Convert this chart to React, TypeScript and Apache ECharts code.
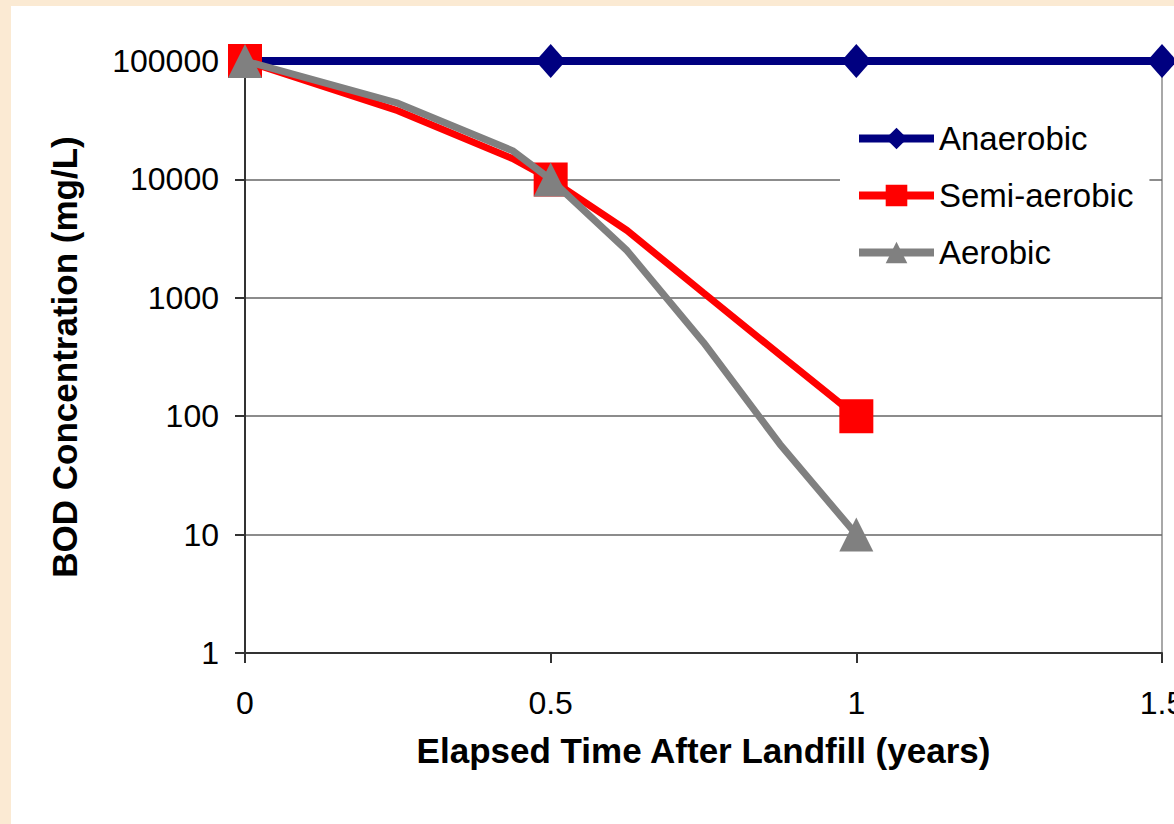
import React, { useEffect, useRef } from "react";
import * as echarts from "echarts";

const seriesNames = ["Anaerobic", "Semi-aerobic", "Aerobic"];
const anaerobicTimes = [0, 0.5, 1, 1.5];
const anaerobicValues = [100000, 100000, 100000, 100000];
const curveTimes = [0, 0.25, 0.4375, 0.5, 0.625, 0.75, 0.875, 1];
const semiValues = [100000, 38000, 15000, 10000, 3700, 1100, 330, 100];
const aerobicValues = [100000, 44000, 17500, 10000, 2500, 420, 58, 10];
const markerTimes = [0, 0.5, 1, 1.5];
const yTicks = [1, 10, 100, 1000, 10000, 100000];

const FONT = "Liberation Sans, Arial, sans-serif";

function buildData(times: number[], values: number[], size: number | number[]) {
  return times.map((t, i) => ({
    value: [t, values[i]],
    symbolSize: markerTimes.indexOf(t) >= 0 ? size : 0,
  }));
}

export default function App() {
  const ref = useRef<HTMLDivElement>(null);
  useEffect(() => {
    if (!ref.current) return;
    const chart = echarts.init(ref.current, undefined, { renderer: "svg" });
    chart.setOption({
      animation: false,
      backgroundColor: "#FBEAD3",
      graphic: [
        {
          type: "rect",
          z: -10,
          shape: { x: 11, y: 6, width: 1174, height: 830 },
          style: { fill: "#FFFFFF" },
          silent: true,
        },
      ],
      grid: {
        left: 245,
        top: 61,
        right: 12,
        bottom: 171,
        outerBoundsMode: "none",
        containLabel: false,
        show: true,
        backgroundColor: "transparent",
        borderColor: "#8C8C8C",
        borderWidth: 1.5,
      },
      legend: {
        left: 840,
        top: 112,
        padding: [10, 16, 10, 15],
        backgroundColor: "#FFFFFF",
        orient: "vertical",
        itemWidth: 75,
        itemHeight: 27,
        itemGap: 24,
        data: seriesNames.map((n) => ({
          name: n,
          lineStyle: { width: 8 },
        })),
        textStyle: { fontFamily: FONT, fontSize: 33, color: "#000000" },
      },
      xAxis: {
        type: "value",
        min: 0,
        max: 1.5,
        interval: 0.5,
        name: "Elapsed Time After Landfill (years)",
        nameLocation: "middle",
        nameGap: 80,
        nameTextStyle: { fontFamily: FONT, fontSize: 35, fontWeight: "bold", color: "#000000" },
        axisLine: { show: true, lineStyle: { color: "#333333", width: 2 } },
        axisTick: { show: true, inside: false, length: 10, lineStyle: { color: "#333333", width: 2 } },
        axisLabel: {
          fontFamily: FONT,
          fontSize: 32,
          color: "#000000",
          margin: 34,
          formatter: (v: number) => String(v),
        },
        splitLine: { show: false },
      },
      yAxis: {
        type: "log",
        logBase: 10,
        min: 1,
        max: 100000,
        name: "BOD Concentration (mg/L)",
        nameLocation: "middle",
        nameGap: 163,
        nameRotate: 90,
        nameTextStyle: { fontFamily: FONT, fontSize: 35, fontWeight: "bold", color: "#000000" },
        axisLine: { show: true, lineStyle: { color: "#333333", width: 2 } },
        axisTick: { show: true, inside: false, length: 10, lineStyle: { color: "#333333", width: 2 } },
        axisLabel: {
          fontFamily: FONT,
          fontSize: 32,
          color: "#000000",
          margin: 26,
          formatter: (v: number) => {
            const r = Math.round(v);
            return yTicks.indexOf(r) >= 0 ? String(r) : "";
          },
        },
        splitLine: { show: true, lineStyle: { color: "#666666", width: 1.5 } },
      },
      series: [
        {
          name: seriesNames[0],
          type: "line",
          data: buildData(anaerobicTimes, anaerobicValues, [30, 34]),
          symbol: "diamond",
          symbolSize: [30, 34],
          showSymbol: true,
          showAllSymbol: true,
          color: "#000080",
          lineStyle: { color: "#000080", width: 8 },
          itemStyle: { color: "#000080" },
          clip: false,
          z: 2,
        },
        {
          name: seriesNames[1],
          type: "line",
          data: buildData(curveTimes, semiValues, 34),
          symbol: "rect",
          symbolSize: 34,
          showAllSymbol: true,
          color: "#FF0000",
          lineStyle: { color: "#FF0000", width: 7 },
          itemStyle: { color: "#FF0000" },
          clip: false,
          z: 3,
        },
        {
          name: seriesNames[2],
          type: "line",
          data: buildData(curveTimes, aerobicValues, 34),
          symbol: "triangle",
          symbolSize: 34,
          showAllSymbol: true,
          color: "#808080",
          lineStyle: { color: "#808080", width: 7 },
          itemStyle: { color: "#808080" },
          clip: false,
          z: 4,
        },
      ],
    });
    return () => chart.dispose();
  }, []);
  return (
    <div
      ref={ref}
      style={{ position: "fixed", left: 0, top: 0, width: 1174, height: 824 }}
    />
  );
}
